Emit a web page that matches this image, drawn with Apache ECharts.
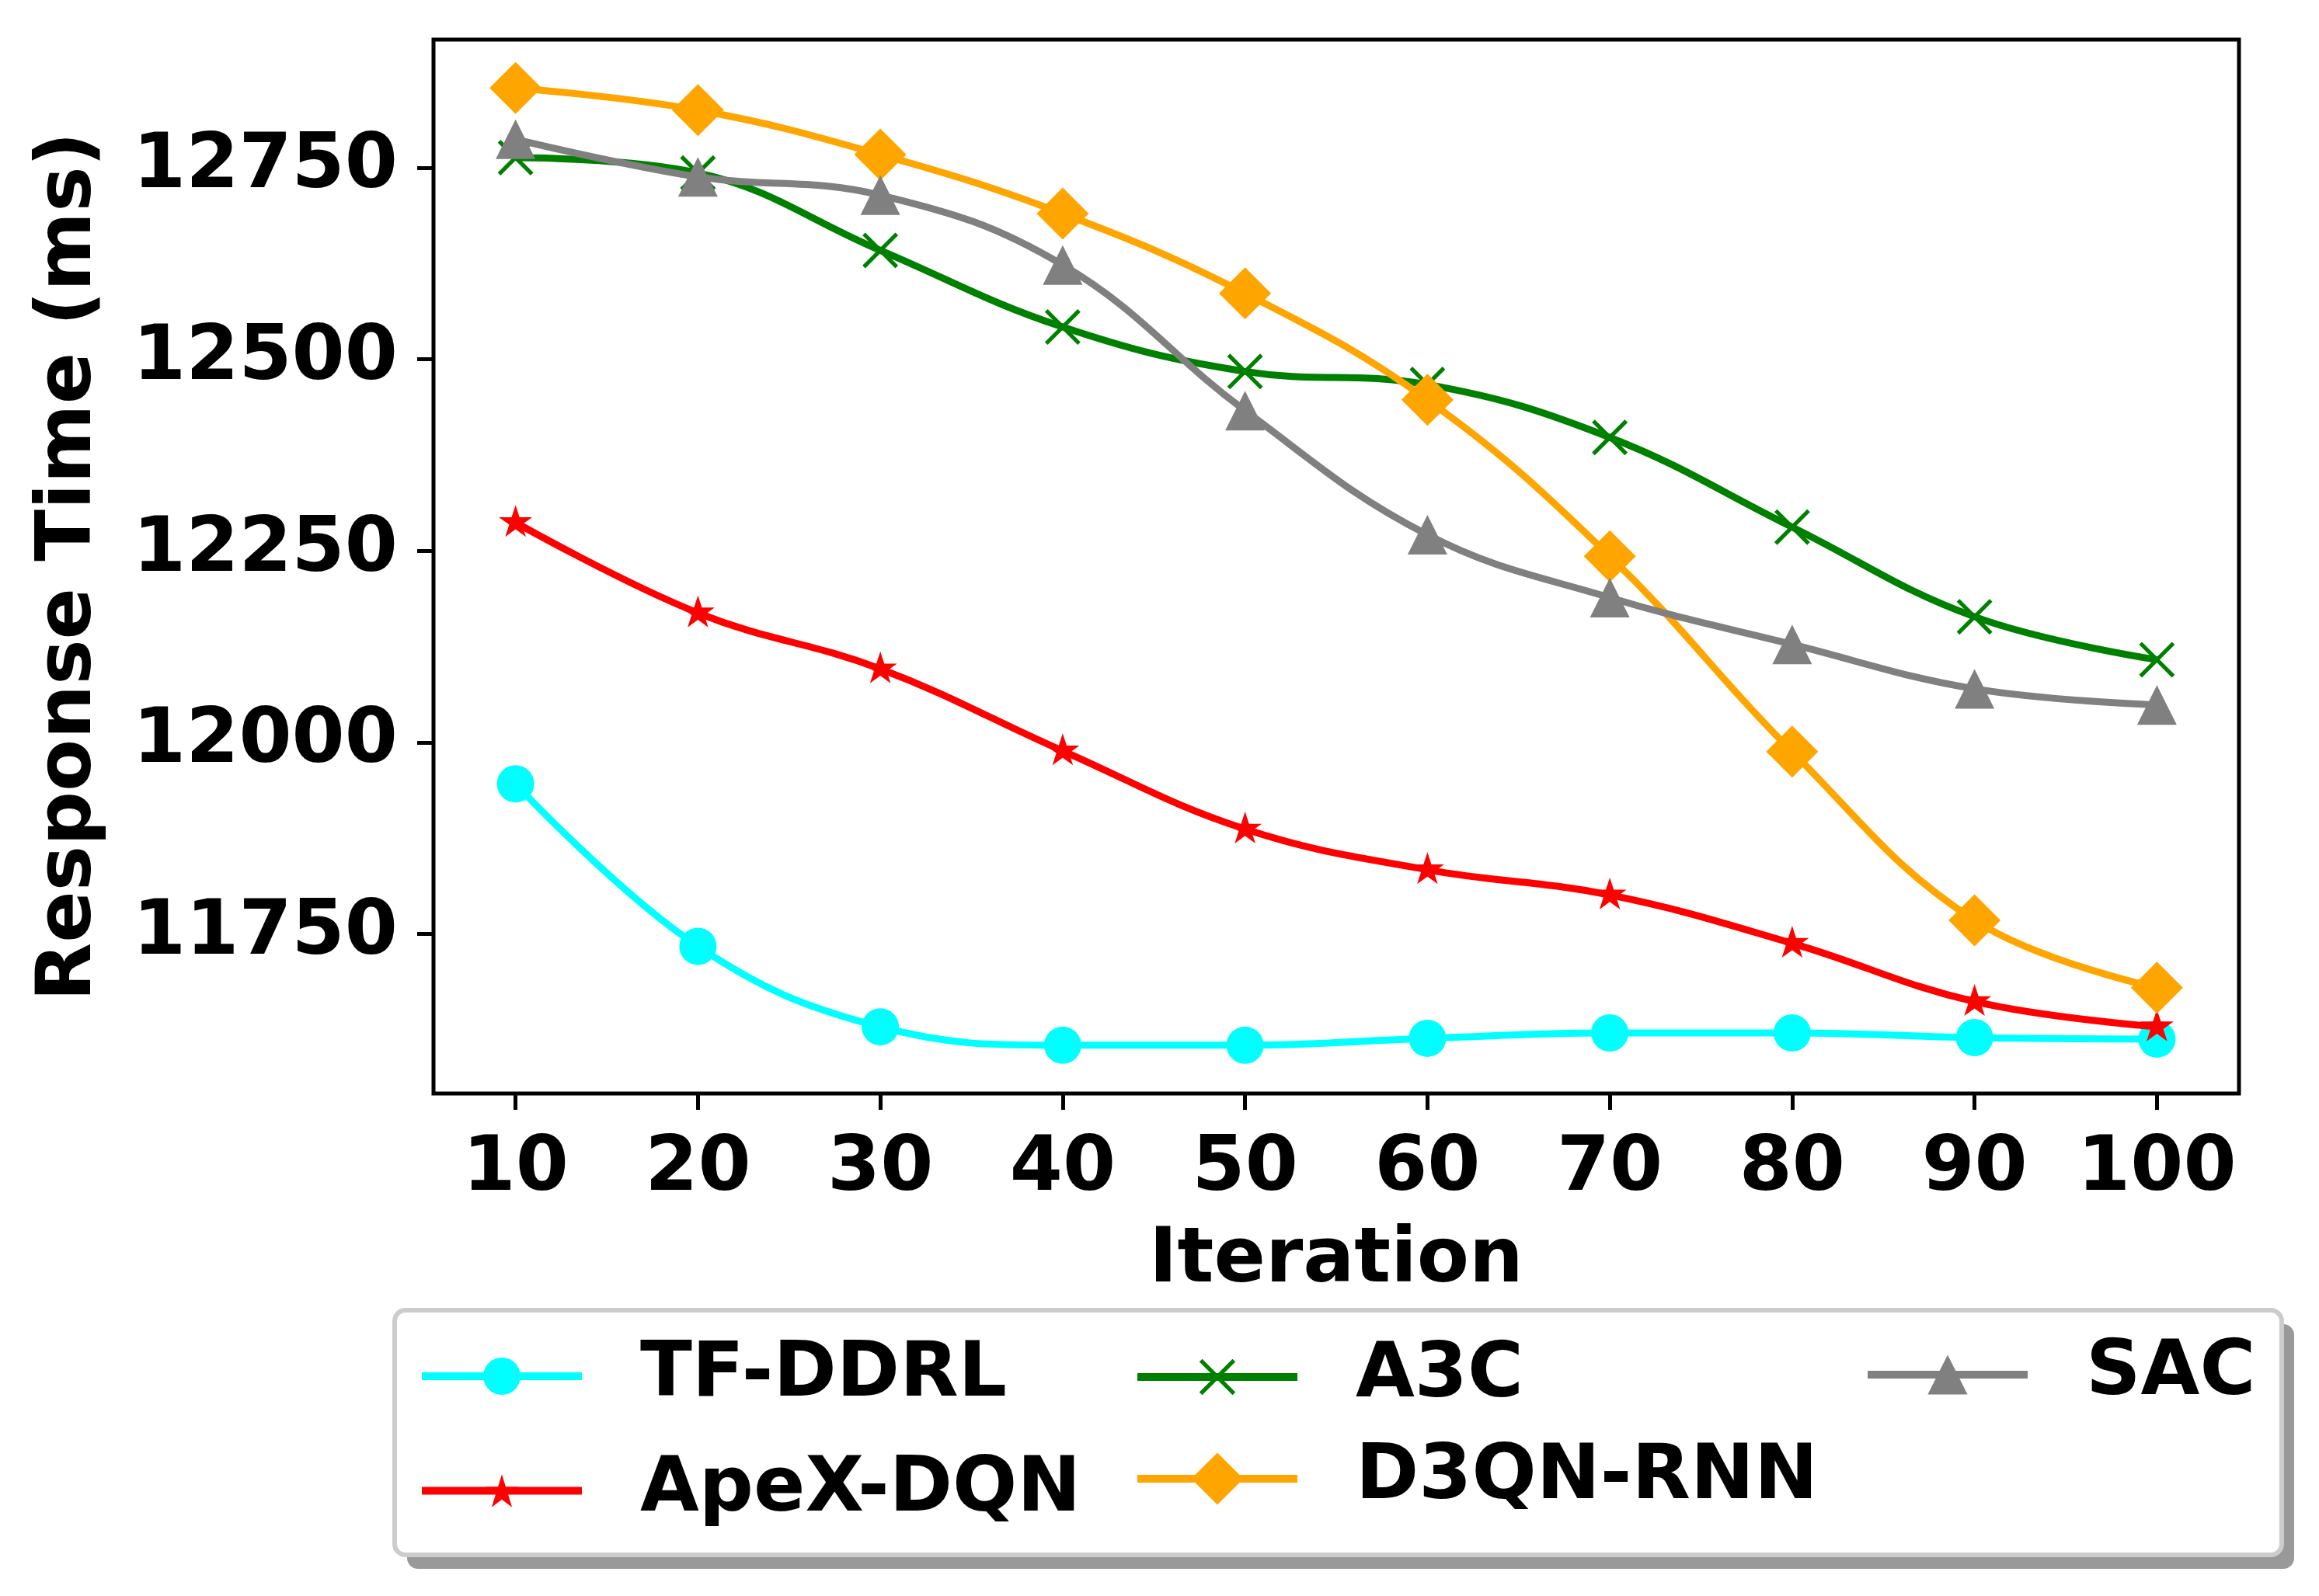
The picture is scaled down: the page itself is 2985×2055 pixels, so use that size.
<!DOCTYPE html>
<html><head><meta charset="utf-8">
<script src="https://cdn.jsdelivr.net/npm/echarts@6/dist/echarts.min.js"></script>
<style>html,body{margin:0;padding:0;background:#fff}#c{width:2985px;height:2055px}</style>
</head><body><div id="c"></div>
<script>
const iterations = [10, 20, 30, 40, 50, 60, 70, 80, 90, 100];
const tfDdrl  = [11946, 11734, 11629, 11605, 11605, 11614, 11621, 11621, 11615, 11613];
const apexDqn = [12287, 12169, 12096, 11989, 11887, 11834, 11801, 11738, 11662, 11629];
const a3c     = [12763, 12743, 12642, 12542, 12484, 12467, 12398, 12281, 12164, 12108];
const d3qnRnn = [12854, 12825, 12767, 12690, 12586, 12447, 12243, 11988, 11768, 11680];
const sac     = [12787, 12738, 12714, 12623, 12433, 12271, 12189, 12128, 12070, 12049];
const xTicks = [10, 20, 30, 40, 50, 60, 70, 80, 90, 100];
const yTicks = [11750, 12000, 12250, 12500, 12750];

const FONT = '"DejaVu Sans", "Liberation Sans", sans-serif';
const starPath = 'path://M50,0 L61.23,34.55 L97.55,34.55 L68.17,55.9 L79.39,90.45 L50,69.1 L20.61,90.45 L31.83,55.9 L2.45,34.55 L38.77,34.55 Z';
const xPath = 'path://M0,8 L8,0 L100,92 L92,100 Z M92,0 L100,8 L8,100 L0,92 Z';

function pts(arr) { return iterations.map((x, i) => [x, arr[i]]); }

const defs = [
  { name: 'TF-DDRL',  data: tfDdrl,  color: '#00ffff', symbol: 'circle',   size: 48,       offset: [0, 0],  legH: 60 },
  { name: 'ApeX-DQN', data: apexDqn, color: '#ff0000', symbol: starPath,   size: [43, 41], offset: [0, -2], legH: 53 },
  { name: 'A3C',      data: a3c,     color: '#008000', symbol: xPath,      size: 46,       offset: [0, 0],  legH: 58 },
  { name: 'D3QN-RNN', data: d3qnRnn, color: '#ffa500', symbol: 'diamond',  size: 67,       offset: [0, 0],  legH: 84 },
  { name: 'SAC',      data: sac,     color: '#808080', symbol: 'triangle', size: 51,       offset: [0, 0],  legH: 64 }
];
const legendPos = [
  { left: 538,  cy: 1753 },
  { left: 538,  cy: 1897 },
  { left: 1459, cy: 1753 },
  { left: 1459, cy: 1897 },
  { left: 2399, cy: 1753 }
];

const chart = echarts.init(document.getElementById('c'), null, { renderer: 'canvas' });

const series = defs.map((d, i) => ({
  name: d.name,
  type: 'line',
  data: pts(d.data),
  smooth: 0.4,
  symbol: d.symbol,
  symbolSize: d.size,
  symbolOffset: d.offset,
  showAllSymbol: true,
  z: 2 + i,
  lineStyle: { color: d.color, width: 9 },
  itemStyle: { color: d.color, borderWidth: 0 },
  emphasis: { disabled: true },
  animation: false
}));

const legends = defs.map((d, i) => ({
  data: [{ name: d.name, lineStyle: { width: 10, color: d.color }, itemStyle: { color: d.color, borderWidth: 0 } }],
  left: legendPos[i].left,
  top: legendPos[i].cy - d.legH / 2,
  orient: 'horizontal',
  padding: 0,
  itemWidth: 206,
  itemHeight: d.legH,
  selectedMode: false,
  z: 10,
  lineStyle: { width: 10 },
  itemStyle: { borderWidth: 0 },
  textStyle: { fontSize: 98, fontWeight: 'bold', fontFamily: FONT, color: '#000', padding: [0, 0, 0, 70] }
}));

const option = {
  backgroundColor: '#ffffff',
  animation: false,
  grid: { left: 558, right: 103, top: 51, bottom: 647, show: true, borderColor: '#000', borderWidth: 5, backgroundColor: 'transparent' },
  xAxis: {
    type: 'value', min: 5.5, max: 104.5,
    axisLine: { show: false },
    splitLine: { show: false },
    axisTick: { show: true, customValues: xTicks, length: 21, lineStyle: { color: '#000', width: 5 } },
    axisLabel: { customValues: xTicks, margin: 50, fontSize: 98, fontWeight: 'bold', fontFamily: FONT, color: '#000', formatter: v => String(v) }
  },
  yAxis: {
    type: 'value', min: 11542, max: 12917,
    axisLine: { show: false },
    splitLine: { show: false },
    axisTick: { show: true, customValues: yTicks, length: 21, lineStyle: { color: '#000', width: 5 } },
    axisLabel: { customValues: yTicks, margin: 46, fontSize: 98, fontWeight: 'bold', fontFamily: FONT, color: '#000', formatter: v => String(v) }
  },
  legend: legends,
  graphic: [
    { type: 'rect', z: 1, silent: true, shape: { x: 524, y: 1705, width: 2429, height: 315, r: 14 }, style: { fill: '#999999' } },
    { type: 'rect', z: 2, silent: true, shape: { x: 508, y: 1687, width: 2429, height: 315, r: 14 }, style: { fill: '#ffffff', stroke: '#cccccc', lineWidth: 6 } },
    { type: 'text', z: 3, silent: true, x: 90.5, y: 729.5, rotation: Math.PI / 2,
      style: { text: 'Response Time (ms)', font: 'bold 98px ' + FONT, fill: '#000', textAlign: 'center', textVerticalAlign: 'middle', align: 'center', verticalAlign: 'middle' } },
    { type: 'text', z: 3, silent: true, x: 1720, y: 1625,
      style: { text: 'Iteration', font: 'bold 98px ' + FONT, fill: '#000', textAlign: 'center', textVerticalAlign: 'middle', align: 'center', verticalAlign: 'middle' } }
  ],
  series: series
};
chart.setOption(option);
</script>
</body></html>
